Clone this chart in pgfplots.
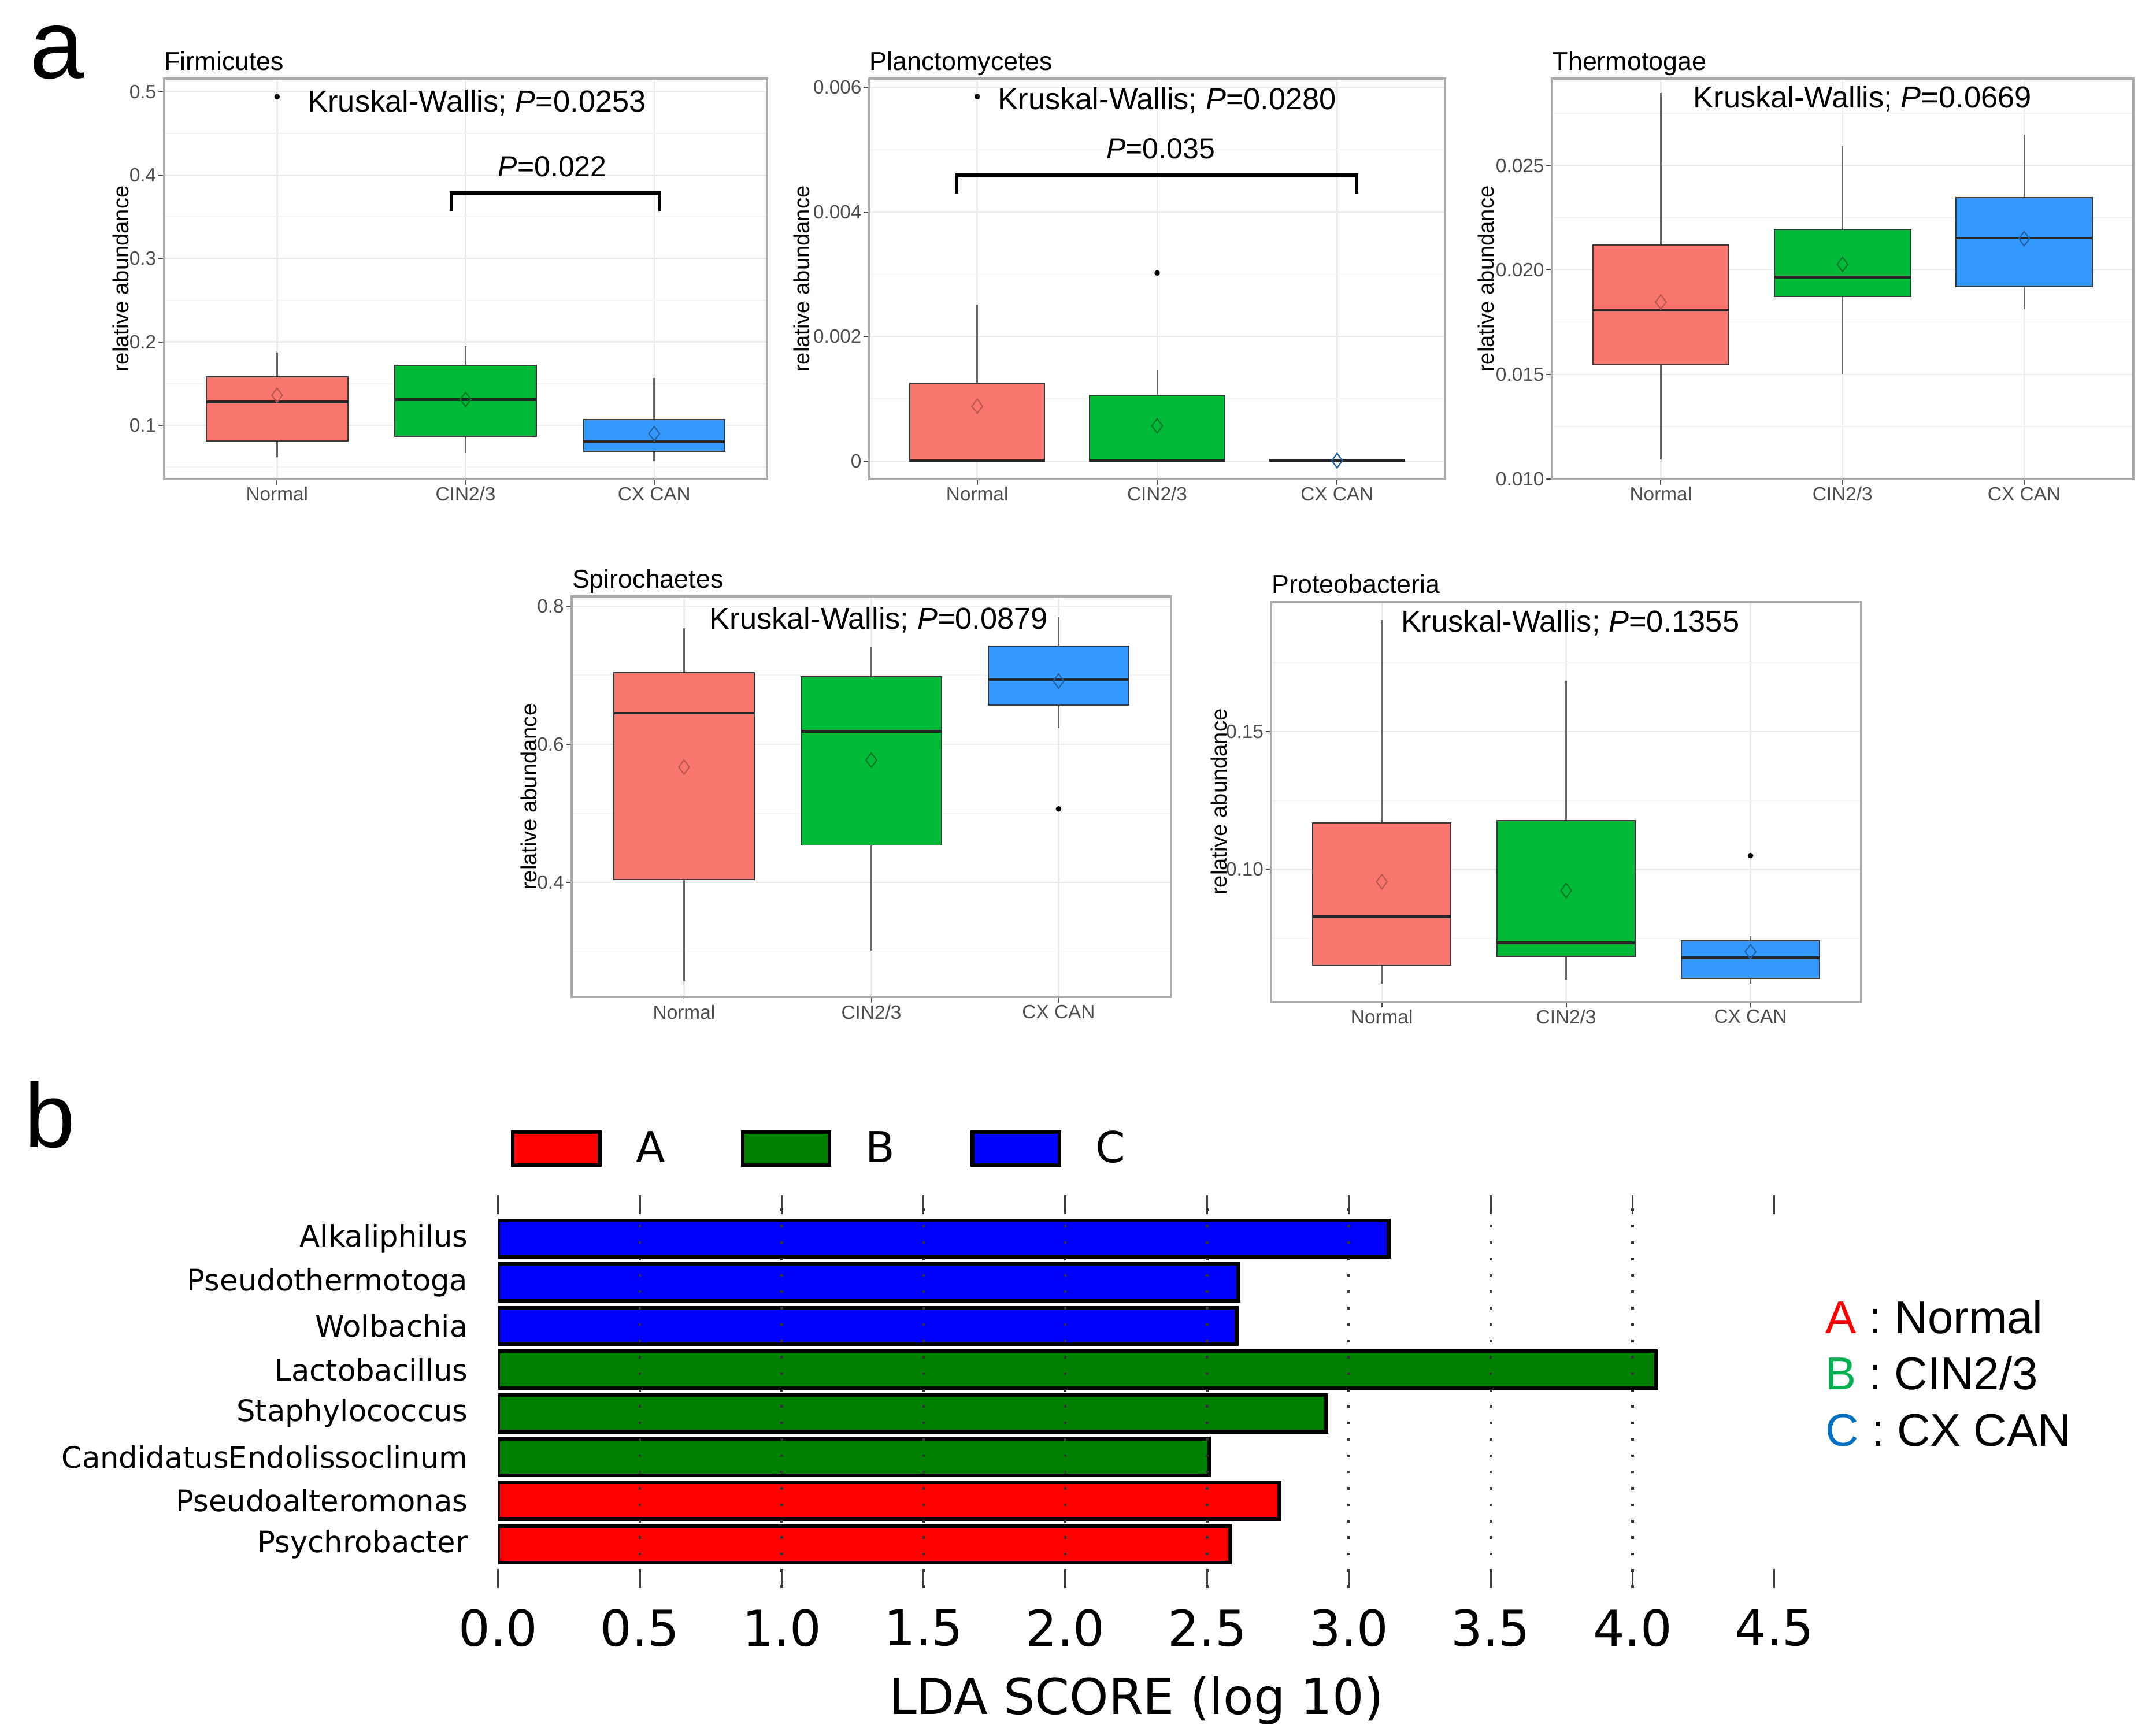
\documentclass[border=0pt]{standalone}
\usepackage{fontspec}
\setmainfont{Liberation Sans}
\newfontfamily\dejavu{DejaVu Sans}
\usepackage{pgfplots}
\pgfplotsset{compat=1.18}
\usepgfplotslibrary{statistics}

\definecolor{ggred}{HTML}{F8766D}
\definecolor{gggreen}{HTML}{00BA38}
\definecolor{ggblue}{HTML}{3399FF}
\definecolor{tickgrey}{HTML}{4D4D4D}
\definecolor{gridmaj}{HTML}{EBEBEB}
\definecolor{gridmin}{HTML}{F4F4F4}
\definecolor{framegrey}{HTML}{ABABAB}
\definecolor{boxedge}{HTML}{3A3A3A}
\definecolor{whisk}{HTML}{666666}
\definecolor{ldared}{HTML}{FF0000}
\definecolor{ldagreen}{HTML}{008000}
\definecolor{ldablue}{HTML}{0000FF}
\definecolor{keyA}{HTML}{FF0000}
\definecolor{keyB}{HTML}{00B050}
\definecolor{keyC}{HTML}{0070C0}

\tikzset{
  kw/.style={font=\fontsize{11}{13}\selectfont, inner sep=0pt},
  pw/.style={font=\fontsize{10.5}{12}\selectfont, inner sep=0pt},
}

\pgfplotsset{
  ggpanel/.style 2 args={
    scale only axis,
    anchor=south west,
    xmin=0.4, xmax=3.6,
    xtick={1,2,3},
    xticklabels={Normal,CIN2/3,CX CAN},
    scaled y ticks=false,
    axis line style={framegrey, line width=0.8pt},
    tick style={tickgrey, line width=0.4pt},
    tick align=outside,
    xtick pos=bottom, ytick pos=left,
    major tick length=2pt,
    minor tick length=0pt,
    xmajorgrids, ymajorgrids, yminorgrids,
    major grid style={gridmaj, line width=0.5pt},
    minor grid style={gridmin, line width=0.35pt},
    ticklabel style={font=\fontsize{7}{8}\selectfont, text=tickgrey, inner sep=0.6pt},
    every axis title/.style={at={(axis description cs:0,1)}, anchor=base west, inner sep=0pt,
      yshift=3.1pt, font=\fontsize{9.4}{11}\selectfont},
    title={#1},
    ylabel={relative abundance},
    every axis y label/.style={at={([xshift=-#2]axis description cs:0,0.5)},
      rotate=90, anchor=center, inner sep=0pt, font=\fontsize{8}{9}\selectfont},
    boxplot/draw direction=y,
    boxplot/box extend=0.75,
    boxplot/every median/.style={draw=black!85, line width=1pt},
    boxplot/draw/lower whisker/.code={%
      \draw[whisk, line width=0.6pt]
        (boxplot cs:\pgfplotsboxplotvalue{lower quartile})
        -- (boxplot cs:\pgfplotsboxplotvalue{lower whisker});
    },
    boxplot/draw/upper whisker/.code={%
      \draw[whisk, line width=0.6pt]
        (boxplot cs:\pgfplotsboxplotvalue{upper quartile})
        -- (boxplot cs:\pgfplotsboxplotvalue{upper whisker});
    },
  },
  outl/.style={only marks, mark=*, mark size=0.8pt, black},
  meanmk/.style={only marks, mark=diamond, mark size=2.6pt, mark options={draw=#1, line width=0.45pt}},
}

\begin{document}
\begin{tikzpicture}
\useasboundingbox (0pt,0pt) rectangle (780pt,630pt);

% ---------- Firmicutes
\begin{axis}[ggpanel={Firmicutes}{15.75pt},
  at={(59.5pt,456pt)}, width=219pt, height=145.5pt,
  ymin=0.0352, ymax=0.5158,
  ytick={0.1,0.2,0.3,0.4,0.5}, yticklabels={0.1,0.2,0.3,0.4,0.5},
  minor ytick={0.05,0.15,0.25,0.35,0.45}]
\addplot[draw=boxedge, line width=0.4pt, fill=ggred, boxplot/every box/.style={fill=ggred},
  boxplot prepared={draw position=1, lower whisker=0.062, lower quartile=0.081,
  median=0.128, upper quartile=0.158, upper whisker=0.187}] coordinates {};
\addplot[draw=boxedge, line width=0.4pt, fill=gggreen, boxplot/every box/.style={fill=gggreen},
  boxplot prepared={draw position=2, lower whisker=0.067, lower quartile=0.087,
  median=0.131, upper quartile=0.172, upper whisker=0.195}] coordinates {};
\addplot[draw=boxedge, line width=0.4pt, fill=ggblue, boxplot/every box/.style={fill=ggblue},
  boxplot prepared={draw position=3, lower whisker=0.057, lower quartile=0.069,
  median=0.080, upper quartile=0.107, upper whisker=0.157}] coordinates {};
\addplot[meanmk=ggred!75!black] coordinates {(1,0.136)};
\addplot[meanmk=gggreen!65!black] coordinates {(2,0.131)};
\addplot[meanmk=ggblue!65!black] coordinates {(3,0.090)};
\addplot[outl] coordinates {(1,0.494)};
\addplot[black, line width=1.2pt] coordinates {(1.925,0.357) (1.925,0.3785) (3.03,0.3785) (3.03,0.357)};
\node[kw] at (axis cs:2.06,0.487) {Kruskal-Wallis; \textit{P}=0.0253};
\node[pw] at (axis cs:2.46,0.410) {\textit{P}=0.022};
\end{axis}

% ---------- Planctomycetes
\begin{axis}[ggpanel={Planctomycetes}{24.5pt},
  at={(315.5pt,456pt)}, width=209pt, height=145.5pt,
  ymin=-0.00029, ymax=0.00614,
  ytick={0,0.002,0.004,0.006}, yticklabels={0,0.002,0.004,0.006},
  minor ytick={0.001,0.003,0.005}]
\addplot[draw=boxedge, line width=0.4pt, fill=ggred, boxplot/every box/.style={fill=ggred},
  boxplot prepared={draw position=1, lower whisker=0, lower quartile=0,
  median=0.00001, upper quartile=0.001256, upper whisker=0.002516}] coordinates {};
\addplot[draw=boxedge, line width=0.4pt, fill=gggreen, boxplot/every box/.style={fill=gggreen},
  boxplot prepared={draw position=2, lower whisker=0, lower quartile=0,
  median=0.00001, upper quartile=0.001054, upper whisker=0.001462}] coordinates {};
\addplot[draw=boxedge, line width=0.4pt, fill=ggblue, boxplot/every box/.style={fill=ggblue},
  boxplot prepared={draw position=3, lower whisker=0, lower quartile=0,
  median=0.00001, upper quartile=0.00003, upper whisker=0.00003}] coordinates {};
\addplot[meanmk=ggred!75!black] coordinates {(1,0.000882)};
\addplot[meanmk=gggreen!65!black] coordinates {(2,0.000568)};
\addplot[meanmk=ggblue!65!black] coordinates {(3,0.00001)};
\addplot[outl] coordinates {(1,0.00585) (2,0.00302)};
\addplot[black, line width=1.2pt] coordinates {(0.887,0.00429) (0.887,0.00459) (3.108,0.00459) (3.108,0.00429)};
\node[kw] at (axis cs:2.056,0.005785) {Kruskal-Wallis; \textit{P}=0.0280};
\node[pw] at (axis cs:2.02,0.00501) {\textit{P}=0.035};
\end{axis}

% ---------- Thermotogae
\begin{axis}[ggpanel={Thermotogae}{24pt},
  at={(563.25pt,456pt)}, width=211pt, height=145.5pt,
  ymin=0.00998, ymax=0.02917,
  ytick={0.010,0.015,0.020,0.025}, yticklabels={0.010,0.015,0.020,0.025},
  minor ytick={0.0125,0.0175,0.0225,0.0275}]
\addplot[draw=boxedge, line width=0.4pt, fill=ggred, boxplot/every box/.style={fill=ggred},
  boxplot prepared={draw position=1, lower whisker=0.01093, lower quartile=0.01547,
  median=0.01807, upper quartile=0.0212, upper whisker=0.02847}] coordinates {};
\addplot[draw=boxedge, line width=0.4pt, fill=gggreen, boxplot/every box/.style={fill=gggreen},
  boxplot prepared={draw position=2, lower whisker=0.0150, lower quartile=0.01873,
  median=0.01967, upper quartile=0.02193, upper whisker=0.02593}] coordinates {};
\addplot[draw=boxedge, line width=0.4pt, fill=ggblue, boxplot/every box/.style={fill=ggblue},
  boxplot prepared={draw position=3, lower whisker=0.01813, lower quartile=0.0192,
  median=0.02153, upper quartile=0.02347, upper whisker=0.02647}] coordinates {};
\addplot[meanmk=ggred!75!black] coordinates {(1,0.01847)};
\addplot[meanmk=gggreen!65!black] coordinates {(2,0.02027)};
\addplot[meanmk=ggblue!65!black] coordinates {(3,0.0215)};
\node[kw] at (axis cs:2.11,0.02819) {Kruskal-Wallis; \textit{P}=0.0669};
\end{axis}

% ---------- Spirochaetes
\begin{axis}[ggpanel={Spirochaetes}{15.5pt},
  at={(207.5pt,268pt)}, width=217.5pt, height=145.5pt,
  ymin=0.234, ymax=0.814,
  ytick={0.4,0.6,0.8}, yticklabels={0.4,0.6,0.8},
  minor ytick={0.3,0.5,0.7}]
\addplot[draw=boxedge, line width=0.4pt, fill=ggred, boxplot/every box/.style={fill=ggred},
  boxplot prepared={draw position=1, lower whisker=0.257, lower quartile=0.404,
  median=0.645, upper quartile=0.7035, upper whisker=0.768}] coordinates {};
\addplot[draw=boxedge, line width=0.4pt, fill=gggreen, boxplot/every box/.style={fill=gggreen},
  boxplot prepared={draw position=2, lower whisker=0.3015, lower quartile=0.454,
  median=0.619, upper quartile=0.6975, upper whisker=0.740}] coordinates {};
\addplot[draw=boxedge, line width=0.4pt, fill=ggblue, boxplot/every box/.style={fill=ggblue},
  boxplot prepared={draw position=3, lower whisker=0.623, lower quartile=0.657,
  median=0.6935, upper quartile=0.742, upper whisker=0.784}] coordinates {};
\addplot[meanmk=ggred!75!black] coordinates {(1,0.567)};
\addplot[meanmk=gggreen!65!black] coordinates {(2,0.577)};
\addplot[meanmk=ggblue!65!black] coordinates {(3,0.6915)};
\addplot[outl] coordinates {(3,0.5065)};
\node[kw] at (axis cs:2.04,0.780) {Kruskal-Wallis; \textit{P}=0.0879};
\end{axis}

% ---------- Proteobacteria
\begin{axis}[ggpanel={Proteobacteria}{19pt},
  at={(461.4pt,266.25pt)}, width=214.1pt, height=145.25pt,
  ymin=0.0518, ymax=0.1972,
  ytick={0.10,0.15}, yticklabels={0.10,0.15},
  minor ytick={0.075,0.125,0.175}]
\addplot[draw=boxedge, line width=0.4pt, fill=ggred, boxplot/every box/.style={fill=ggred},
  boxplot prepared={draw position=1, lower whisker=0.0584, lower quartile=0.0653,
  median=0.0827, upper quartile=0.1168, upper whisker=0.1906}] coordinates {};
\addplot[draw=boxedge, line width=0.4pt, fill=gggreen, boxplot/every box/.style={fill=gggreen},
  boxplot prepared={draw position=2, lower whisker=0.0599, lower quartile=0.0683,
  median=0.0733, upper quartile=0.1178, upper whisker=0.1685}] coordinates {};
\addplot[draw=boxedge, line width=0.4pt, fill=ggblue, boxplot/every box/.style={fill=ggblue},
  boxplot prepared={draw position=3, lower whisker=0.0584, lower quartile=0.0604,
  median=0.0678, upper quartile=0.0740, upper whisker=0.0757}] coordinates {};
\addplot[meanmk=ggred!75!black] coordinates {(1,0.0955)};
\addplot[meanmk=gggreen!65!black] coordinates {(2,0.0923)};
\addplot[meanmk=ggblue!65!black] coordinates {(3,0.0701)};
\addplot[outl] coordinates {(3,0.105)};
\node[kw] at (axis cs:2.022,0.1896) {Kruskal-Wallis; \textit{P}=0.1355};
\end{axis}

% ---------- LDA scores
\begin{axis}[
  scale only axis, anchor=south west,
  at={(180.8pt,53.5pt)}, width=463.2pt, height=142.7pt,
  xbar, bar width=0.84, bar shift=0pt,
  xmin=0, xmax=4.5, ymin=-1, ymax=8,
  xtick={0,0.5,1,1.5,2,2.5,3,3.5,4,4.5},
  xticklabels={0.0,0.5,1.0,1.5,2.0,2.5,3.0,3.5,4.0,4.5},
  ytick={0,1,2,3,4,5,6,7},
  yticklabels={Psychrobacter,Pseudoalteromonas,CandidatusEndolissoclinum,Staphylococcus,Lactobacillus,Wolbachia,Pseudothermotoga,Alkaliphilus},
  axis line style={draw=none},
  tick align=inside, xtick pos=both,
  major tick length=7pt,
  x tick style={black!75, line width=0.7pt},
  ytick style={draw=none},
  xticklabel style={font=\dejavu\fontsize{18}{20}\selectfont, inner sep=0pt, anchor=north, yshift=-7.5pt},
  yticklabel style={font=\dejavu\fontsize{10.75}{12}\selectfont, inner sep=0pt, anchor=east, xshift=-10.8pt},
  xlabel={LDA SCORE (log 10)},
  every axis x label/.style={at={([yshift=-32pt]axis description cs:0.5,0)}, anchor=north,
    inner sep=0pt, font=\dejavu\fontsize{18}{20}\selectfont},
  extra x ticks={0.5,1,1.5,2,2.5,3,3.5,4},
  extra x tick labels={},
  extra x tick style={grid=major, major tick length=0pt},
  major grid style={black!80, line width=0.95pt, dash pattern=on 0.95pt off 5pt},
  axis on top,
  legend columns=3,
  legend cell align=left,
  legend image code/.code={\draw[#1, line width=1.3pt] (0pt,-6pt) rectangle (31.5pt,6pt);},
  legend style={at={(axis description cs:0,1)}, anchor=west, xshift=4.7pt, yshift=16.8pt,
    draw=none, fill=none, inner sep=0pt, outer sep=0pt,
    font=\dejavu\fontsize{15.5}{18}\selectfont, nodes={inner sep=0pt},
    /tikz/every odd column/.append style={column sep=12.5pt},
    /tikz/every even column/.append style={column sep=27.5pt}},
]
\addplot[draw=black, line width=1.3pt, fill=ldared] coordinates {(2.58,0) (2.755,1)};
\addplot[draw=black, line width=1.3pt, fill=ldagreen] coordinates {(2.507,2) (2.92,3) (4.082,4)};
\addplot[draw=black, line width=1.3pt, fill=ldablue] coordinates {(2.604,5) (2.61,6) (3.14,7)};
\legend{A,B,C}
\end{axis}

% ---------- group key and panel letters
\node[anchor=base west, inner sep=0pt, font=\fontsize{16.7}{19}\selectfont] at (662.4pt,145.85pt) {\textcolor{keyA}{A} : Normal};
\node[anchor=base west, inner sep=0pt, font=\fontsize{16.7}{19}\selectfont] at (662.4pt,125.65pt) {\textcolor{keyB}{B} : CIN2/3};
\node[anchor=base west, inner sep=0pt, font=\fontsize{16.7}{19}\selectfont] at (662.4pt,105pt) {\textcolor{keyC}{C} : CX CAN};
\node[anchor=base west, inner sep=0pt, font=\fontsize{35.5}{40}\selectfont] at (10.5pt,601.6pt) {a};
\node[anchor=base west, inner sep=0pt, font=\fontsize{33}{38}\selectfont] at (8.7pt,213.5pt) {b};
\end{tikzpicture}
\end{document}
